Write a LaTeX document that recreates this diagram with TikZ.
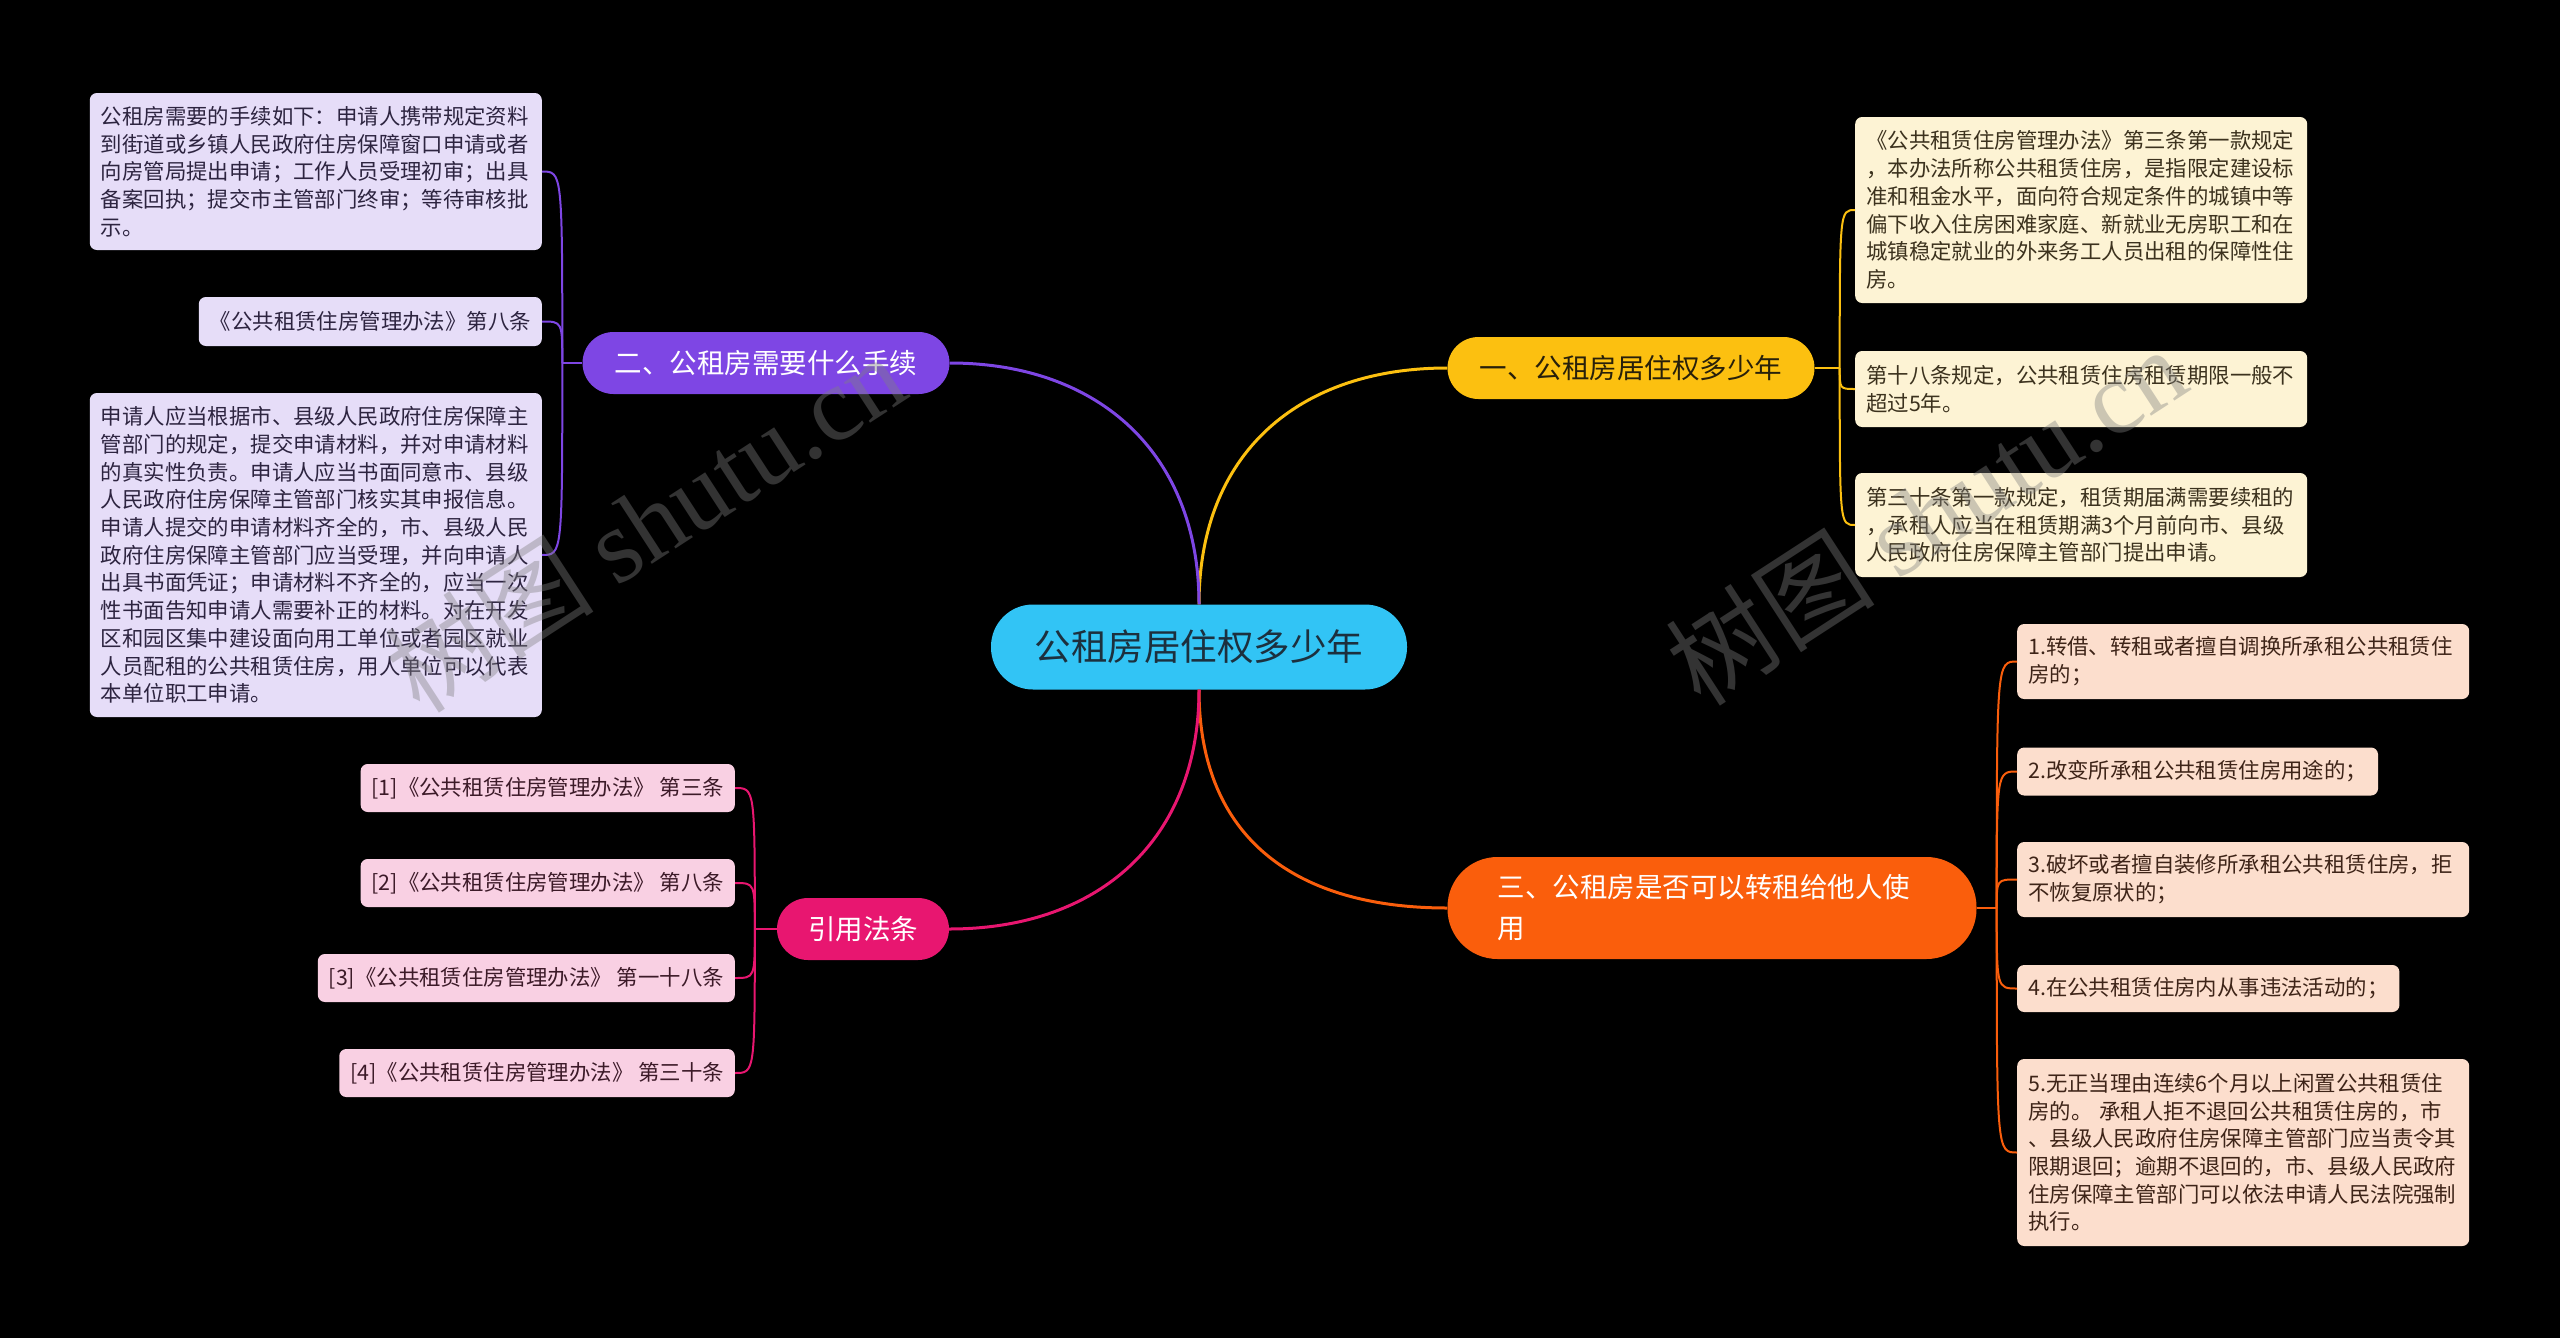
\documentclass[tikz,border=0pt]{standalone}
\usepackage{fontspec}
\setmainfont{Noto Sans CJK SC}
\newfontfamily\wmlatin{Liberation Serif}
\usetikzlibrary{calc}

\definecolor{rootfill}{RGB}{50,196,245}
\definecolor{rootink}{RGB}{28,48,62}
\definecolor{ylw}{RGB}{252,192,16}
\definecolor{ylwink}{RGB}{40,32,10}
\definecolor{prp}{RGB}{126,70,228}
\definecolor{org}{RGB}{250,94,12}
\definecolor{pnk}{RGB}{232,22,112}
\definecolor{lavfill}{RGB}{230,221,248}
\definecolor{lavink}{RGB}{45,36,64}
\definecolor{crmfill}{RGB}{253,243,212}
\definecolor{crmink}{RGB}{60,50,30}
\definecolor{pchfill}{RGB}{252,222,205}
\definecolor{pchink}{RGB}{62,36,24}
\definecolor{pnkfill}{RGB}{249,208,227}
\definecolor{pnkink}{RGB}{60,26,40}

\tikzset{
  rootbox/.style={fill=rootfill,text=rootink,rounded corners=42pt,minimum width=416pt,minimum height=85pt,font=\fontsize{36.5}{44}\selectfont},
  topicbox/.style={rounded corners=31pt,minimum height=62pt,inner xsep=0pt,font=\fontsize{27.5}{41}\selectfont},
  leafbox/.style={rounded corners=7pt,inner xsep=11pt,inner ysep=0pt,align=left,font=\fontsize{21.4}{27.7}\selectfont},
  purpleleaf/.style={leafbox,fill=lavfill,text=lavink,anchor=east},
  yellowleaf/.style={leafbox,fill=crmfill,text=crmink,anchor=west},
  orangeleaf/.style={leafbox,fill=pchfill,text=pchink,anchor=west},
  pinkleaf/.style={leafbox,fill=pnkfill,text=pnkink,anchor=east,minimum height=48pt},
  trunk/.style={line width=3pt},
  twig/.style={line width=2pt},
  wmark/.style={text=gray,text opacity=0.4,rotate=33,font=\fontsize{105}{105}\selectfont},
}

\begin{document}
\begin{tikzpicture}[x=1pt,y=-1pt]
\fill[black] (0,0) rectangle (2560,1338);
\useasboundingbox (0,0) rectangle (2560,1338);

% centre and topics
\node[rootbox] (ctr) at (1199,647) {公租房居住权多少年};
\node[topicbox,fill=ylw,text=ylwink,minimum width=367pt] (b1) at (1631,368) {一、公租房居住权多少年};
\node[topicbox,fill=prp,text=white,minimum width=367pt] (b2) at (766,363) {二、公租房需要什么手续};
\node[topicbox,fill=org,text=white,rounded corners=50pt,minimum height=102pt,inner xsep=50pt,text width=429pt,align=left] (b3) at (1712,908) {三、公租房是否可以转租给他人使\\用};
\node[topicbox,fill=pnk,text=white,minimum width=172pt] (b4) at (863,929) {引用法条};

% purple leaves
\node[purpleleaf,text width=430pt,minimum height=157pt] (l1) at (542,171.5) {公租房需要的手续如下：申请人携带规定资料\\到街道或乡镇人民政府住房保障窗口申请或者\\向房管局提出申请；工作人员受理初审；出具\\备案回执；提交市主管部门终审；等待审核批\\示。};
\node[purpleleaf,minimum height=49pt] (l2) at (542,321.5) {《公共租赁住房管理办法》第八条};
\node[purpleleaf,text width=430pt,minimum height=324pt] (l3) at (542,555) {申请人应当根据市、县级人民政府住房保障主\\管部门的规定，提交申请材料，并对申请材料\\的真实性负责。申请人应当书面同意市、县级\\人民政府住房保障主管部门核实其申报信息。\\申请人提交的申请材料齐全的，市、县级人民\\政府住房保障主管部门应当受理，并向申请人\\出具书面凭证；申请材料不齐全的，应当一次\\性书面告知申请人需要补正的材料。对在开发\\区和园区集中建设面向用工单位或者园区就业\\人员配租的公共租赁住房，用人单位可以代表\\本单位职工申请。};

% yellow leaves
\node[yellowleaf,text width=430pt,minimum height=186pt] (y1) at (1855,210) {《公共租赁住房管理办法》第三条第一款规定\\，本办法所称公共租赁住房，是指限定建设标\\准和租金水平，面向符合规定条件的城镇中等\\偏下收入住房困难家庭、新就业无房职工和在\\城镇稳定就业的外来务工人员出租的保障性住\\房。};
\node[yellowleaf,text width=430pt,minimum height=76pt] (y2) at (1855,389) {第十八条规定，公共租赁住房租赁期限一般不\\超过5年。};
\node[yellowleaf,text width=430pt,minimum height=104pt] (y3) at (1855,525) {第三十条第一款规定，租赁期届满需要续租的\\，承租人应当在租赁期满3个月前向市、县级\\人民政府住房保障主管部门提出申请。};

% orange leaves
\node[orangeleaf,text width=430pt,minimum height=75pt] (o1) at (2017,661.5) {1.转借、转租或者擅自调换所承租公共租赁住\\房的；};
\node[orangeleaf,minimum height=48pt] (o2) at (2017,771.5) {2.改变所承租公共租赁住房用途的；};
\node[orangeleaf,text width=430pt,minimum height=75pt] (o3) at (2017,879.5) {3.破坏或者擅自装修所承租公共租赁住房，拒\\不恢复原状的；};
\node[orangeleaf,minimum height=47pt] (o4) at (2017,988.5) {4.在公共租赁住房内从事违法活动的；};
\node[orangeleaf,text width=430pt,minimum height=187pt] (o5) at (2017,1152.5) {5.无正当理由连续6个月以上闲置公共租赁住\\房的。 承租人拒不退回公共租赁住房的，市\\、县级人民政府住房保障主管部门应当责令其\\限期退回；逾期不退回的，市、县级人民政府\\住房保障主管部门可以依法申请人民法院强制\\执行。};

% pink leaves
\node[pinkleaf] (p1) at (735,788) {[1]《公共租赁住房管理办法》 第三条};
\node[pinkleaf] (p2) at (735,883) {[2]《公共租赁住房管理办法》 第八条};
\node[pinkleaf] (p3) at (735,978) {[3]《公共租赁住房管理办法》 第一十八条};
\node[pinkleaf] (p4) at (735,1073) {[4]《公共租赁住房管理办法》 第三十条};

% centre to topics
\draw[trunk,ylw] (ctr.north) .. controls ($(ctr.north)+(0,-150)$) and ($(b1.west)+(-150,0)$) .. (b1.west);
\draw[trunk,prp] (ctr.north) .. controls ($(ctr.north)+(0,-150)$) and ($(b2.east)+(150,0)$) .. (b2.east);
\draw[trunk,org] (ctr.south) .. controls ($(ctr.south)+(0,150)$) and ($(b3.west)+(-150,0)$) .. (b3.west);
\draw[trunk,pnk] (ctr.south) .. controls ($(ctr.south)+(0,150)$) and ($(b4.east)+(150,0)$) .. (b4.east);

% topics to leaves
\coordinate (j1) at ($(b1.east)+(25,0)$);
\coordinate (j2) at ($(b2.west)+(-20,0)$);
\coordinate (j3) at ($(b3.east)+(20,0)$);
\coordinate (j4) at ($(b4.west)+(-22,0)$);
\draw[twig,ylw] (b1.east) -- (j1);
\draw[twig,prp] (b2.west) -- (j2);
\draw[twig,org] (b3.east) -- (j3);
\draw[twig,pnk] (b4.west) -- (j4);
\foreach \lf in {y1,y2,y3}
  \draw[twig,ylw] (j1) .. controls (j1 |- \lf.west) and (j1 |- \lf.west) .. (\lf.west);
\foreach \lf in {l1,l2,l3}
  \draw[twig,prp] (j2) .. controls (j2 |- \lf.east) and (j2 |- \lf.east) .. (\lf.east);
\foreach \lf in {o1,o2,o3,o4,o5}
  \draw[twig,org] (j3) .. controls (j3 |- \lf.west) and (j3 |- \lf.west) .. (\lf.west);
\foreach \lf in {p1,p2,p3,p4}
  \draw[twig,pnk] (j4) .. controls (j4 |- \lf.east) and (j4 |- \lf.east) .. (\lf.east);

% watermark
\node[wmark] (wm1) at (645,522) {树图 {\wmlatin shutu.cn}};
\node[wmark] (wm2) at (1926,515) {树图 {\wmlatin shutu.cn}};
\end{tikzpicture}
\end{document}
